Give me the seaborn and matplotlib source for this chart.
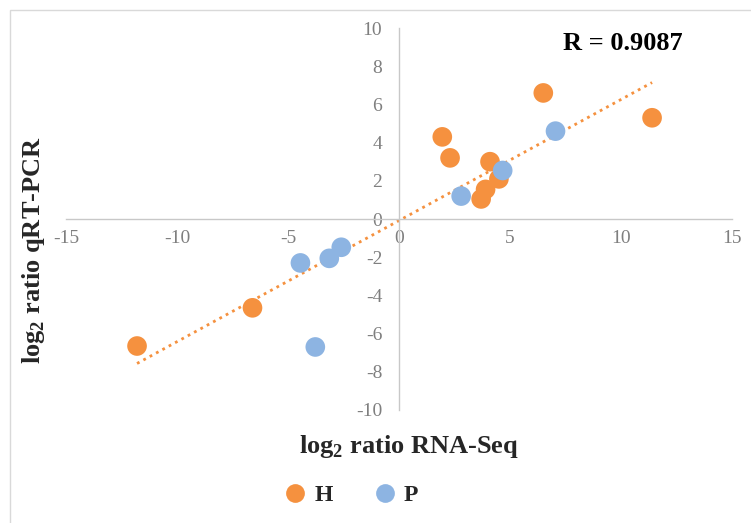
import numpy as np
import pandas as pd
import matplotlib
matplotlib.use("Agg")
import matplotlib.pyplot as plt
from matplotlib.lines import Line2D
from matplotlib.patches import Rectangle
import seaborn as sns

# ---- data ----
h_x = [11.4, 6.5, 1.95, 2.3, 4.1, 3.9, 3.7, 4.5, -6.6, -11.8]
h_y = [5.3, 6.6, 4.3, 3.2, 3.0, 1.55, 1.05, 2.1, -4.65, -6.65]
p_x = [7.05, 4.67, 2.8, -2.6, -3.14, -4.44, -3.77]
p_y = [4.6, 2.54, 1.2, -1.48, -2.06, -2.3, -6.7]
groups = ["H", "P"]
x_ticks = [-15, -10, -5, 0, 5, 10, 15]
y_ticks = [-10, -8, -6, -4, -2, 0, 2, 4, 6, 8, 10]
r_text = "R = 0.9087"

ORANGE = "#F5913F"
BLUE = "#8DB4E2"
GRAY_TXT = "#7F7F7F"
GRAY_LN = "#C8C8C8"

df = pd.DataFrame({
    "x": h_x + p_x,
    "y": h_y + p_y,
    "group": ["H"] * len(h_x) + ["P"] * len(p_x),
})

sns.set_theme(style="white")
plt.rcParams["font.family"] = ["Liberation Serif", "DejaVu Serif"]
plt.rcParams["mathtext.fontset"] = "custom"
plt.rcParams["mathtext.rm"] = "Liberation Serif"
plt.rcParams["mathtext.bf"] = "Liberation Serif:bold"

fig = plt.figure(figsize=(7.51, 5.23), dpi=100)
ax = fig.add_axes([66 / 751, 1 - 410 / 523, 666 / 751, 382 / 523])

# chart border (Excel chart area)
fig.add_artist(Rectangle((10 / 751, -0.1), 1.2, 1.1 - 10 / 523,
                         transform=fig.transFigure, fill=False,
                         edgecolor="#D9D9D9", lw=1.0, zorder=0))

sns.regplot(data=df, x="x", y="y", scatter=False, ci=None, truncate=True,
            ax=ax, line_kws=dict(color=ORANGE, ls=(0, (1, 1.6)), lw=2.0))
sns.scatterplot(data=df, x="x", y="y", hue="group", hue_order=groups,
                palette={"H": ORANGE, "P": BLUE}, s=200, edgecolor="none",
                legend=False, ax=ax, zorder=3)

ax.set_xlim(-15, 15)
ax.set_ylim(-10, 10)
ax.set_xticks(x_ticks)
ax.set_yticks(y_ticks)
ax.set_xticklabels([str(t) for t in x_ticks])
ax.set_yticklabels([str(t) for t in y_ticks])
ax.set_xlabel("")
ax.set_ylabel("")

for side in ["top", "right"]:
    ax.spines[side].set_visible(False)
ax.spines["left"].set_position(("data", 0))
ax.spines["bottom"].set_position(("data", 0))
for side in ["left", "bottom"]:
    ax.spines[side].set_color(GRAY_LN)
    ax.spines[side].set_linewidth(1.0)

ax.tick_params(axis="both", which="major", direction="out", length=4,
               width=1.0, color=GRAY_LN, labelcolor=GRAY_TXT, labelsize=14)
ax.tick_params(axis="y", pad=8)
ax.tick_params(axis="x", pad=4)
ax.patch.set_alpha(0)

# R text
fig.text(563 / 751, 1 - 43 / 523, r_text, fontsize=19, fontweight="bold",
         ha="left", va="center", color="black")

# axis titles
fig.text(409 / 751, 1 - 447 / 523, r"log$_\mathbf{2}$ ratio RNA-Seq",
         fontsize=19, fontweight="bold", ha="center", va="center")
fig.text(34 / 751, 1 - 250 / 523, r"log$_\mathbf{2}$ ratio qRT-PCR",
         fontsize=19, fontweight="bold", ha="center", va="center",
         rotation=90)

handles = [Line2D([], [], ls="none", marker="o", markersize=13.5,
                  markerfacecolor=c, markeredgecolor="none")
           for c in (ORANGE, BLUE)]
fig.legend(handles, groups, loc="center", bbox_to_anchor=(352 / 751, 1 - 495 / 523),
           ncol=2, frameon=False, prop=dict(size=17, weight="bold"),
           handlelength=0.8, handletextpad=0.4, columnspacing=1.8)

fig.savefig("out.png", dpi=100)
